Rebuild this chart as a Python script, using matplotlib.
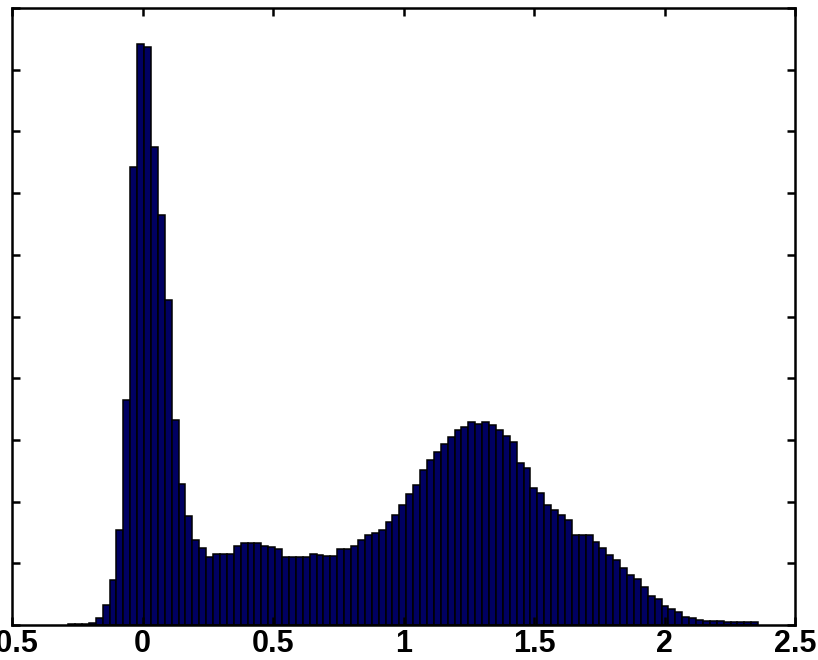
import numpy as np
import matplotlib
matplotlib.use("Agg")
import matplotlib.pyplot as plt

# Histogram data (100 bins)
bin_start = -0.285
bin_end = 2.359
counts = [1, 1, 2, 3, 11, 32, 73, 154, 365, 742,
          942, 937, 775, 664, 527, 332, 229, 177, 138, 125,
          110, 115, 115, 115, 128, 133, 133, 133, 128, 126,
          123, 110, 110, 110, 110, 115, 113, 112, 112, 123,
          123, 128, 138, 146, 149, 154, 167, 178, 194, 212,
          227, 251, 267, 280, 293, 305, 316, 321, 329, 326,
          329, 324, 316, 306, 297, 263, 254, 222, 214, 194,
          186, 178, 170, 146, 146, 146, 134, 125, 113, 105,
          92, 81, 75, 62, 47, 42, 31, 26, 21, 13,
          11, 8, 6, 6, 6, 5, 5, 5, 5, 5]

x_ticks = [-0.5, 0, 0.5, 1, 1.5, 2, 2.5]
x_tick_labels = ["-0.5", "0", "0.5", "1", "1.5", "2", "2.5"]
y_ticks = [0, 100, 200, 300, 400, 500, 600, 700, 800, 900, 1000]

edges = np.linspace(bin_start, bin_end, len(counts) + 1)
widths = np.diff(edges)

fig = plt.figure(figsize=(8.18, 6.60), dpi=100)
ax = fig.add_axes([12 / 818, 35 / 660, 783 / 818, 617 / 660])

ax.bar(edges[:-1], counts, width=widths, align="edge",
       facecolor="#000062", edgecolor="black", linewidth=1.1)

ax.set_xlim(-0.5, 2.5)
ax.set_ylim(0, 1000)
ax.set_xticks(x_ticks)
ax.set_xticklabels(x_tick_labels)
ax.set_yticks(y_ticks)

for s in ax.spines.values():
    s.set_linewidth(1.8)
    s.set_color("black")

ax.tick_params(axis="both", which="major", direction="in", length=6,
               width=1.8, top=True, right=True, labelleft=False,
               labelsize=22, pad=3)
for lbl in ax.get_xticklabels():
    lbl.set_fontfamily("Liberation Sans")
    lbl.set_fontweight("bold")

fig.savefig("out.png", dpi=100)
